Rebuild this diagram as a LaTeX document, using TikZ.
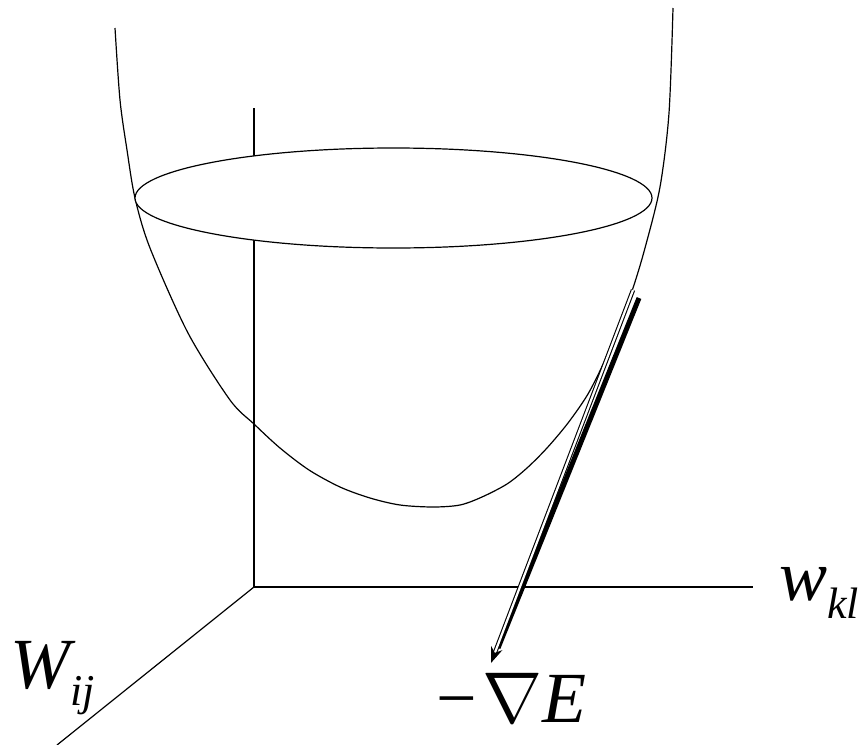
\documentclass[tikz,border=0pt]{standalone}
\usepackage{fontspec}
\setmainfont{Liberation Serif}[ItalicFont={Liberation Serif Italic}]
\newfontfamily\symfont{Latin Modern Math}
\usetikzlibrary{arrows.meta}
\tikzset{axisline/.style={line width=1.2pt},bowl/.style={line width=1.2pt},
 hollow/.style={double,double distance=2.2pt,line width=1.1pt,-{Stealth[length=16pt,width=12pt]}},
 shade/.style={line width=5pt},
 every node/.style={inner sep=0pt}}
\newcommand{\bigfont}{\fontsize{72}{72}\selectfont}
\newcommand{\subfont}{\fontsize{44}{44}\selectfont}

\begin{document}
\begin{tikzpicture}[x=1pt,y=-1pt]
\useasboundingbox (0,0) rectangle (863,745);
\coordinate (O) at (254,587);
\coordinate (Etop) at (254,108);
\coordinate (Wkl) at (753,587);
\coordinate (Wij) at (57,745);
\draw[axisline] (O)--(Etop);
\draw[axisline] (O)--(Wkl);
\draw[axisline] (O)--(Wij);
% error surface
\draw[bowl] plot[smooth,tension=0.5] coordinates {(115,28) (120,100) (127,150) (135,198) (150,248) (188,333)
 (230,400) (254,424) (280,448) (309,470) (340,487) (370,498) (400,505) (433,507) (460,505) (482,497)
 (507,484) (527,468) (547,448) (568,423) (588,394) (605,360) (620,323) (633,288) (645,248) (660,187)
 (669,113) (673,8)};
\draw[bowl,fill=white] (393.5,198) ellipse (258.5 and 50);
% gradient step
\coordinate (gtop) at (633,290);
\coordinate (gtip) at (491,663);
\coordinate (stop) at (639,298);
\coordinate (send) at (498,648);
\draw[shade] (stop)--(send);
\draw[hollow] (gtop)--(gtip);
\node[anchor=base west] (lblW) at (10,688) {\bigfont\itshape W\raisebox{-17pt}{\subfont ij}};
\node[anchor=base west] (lblw) at (779,600) {\bigfont\itshape w\raisebox{-18pt}{\subfont kl}};
\node[anchor=base west] (grad) at (436,722) {\bigfont −\kern6pt{\symfont ∇}\itshape E};
\end{tikzpicture}
\end{document}
